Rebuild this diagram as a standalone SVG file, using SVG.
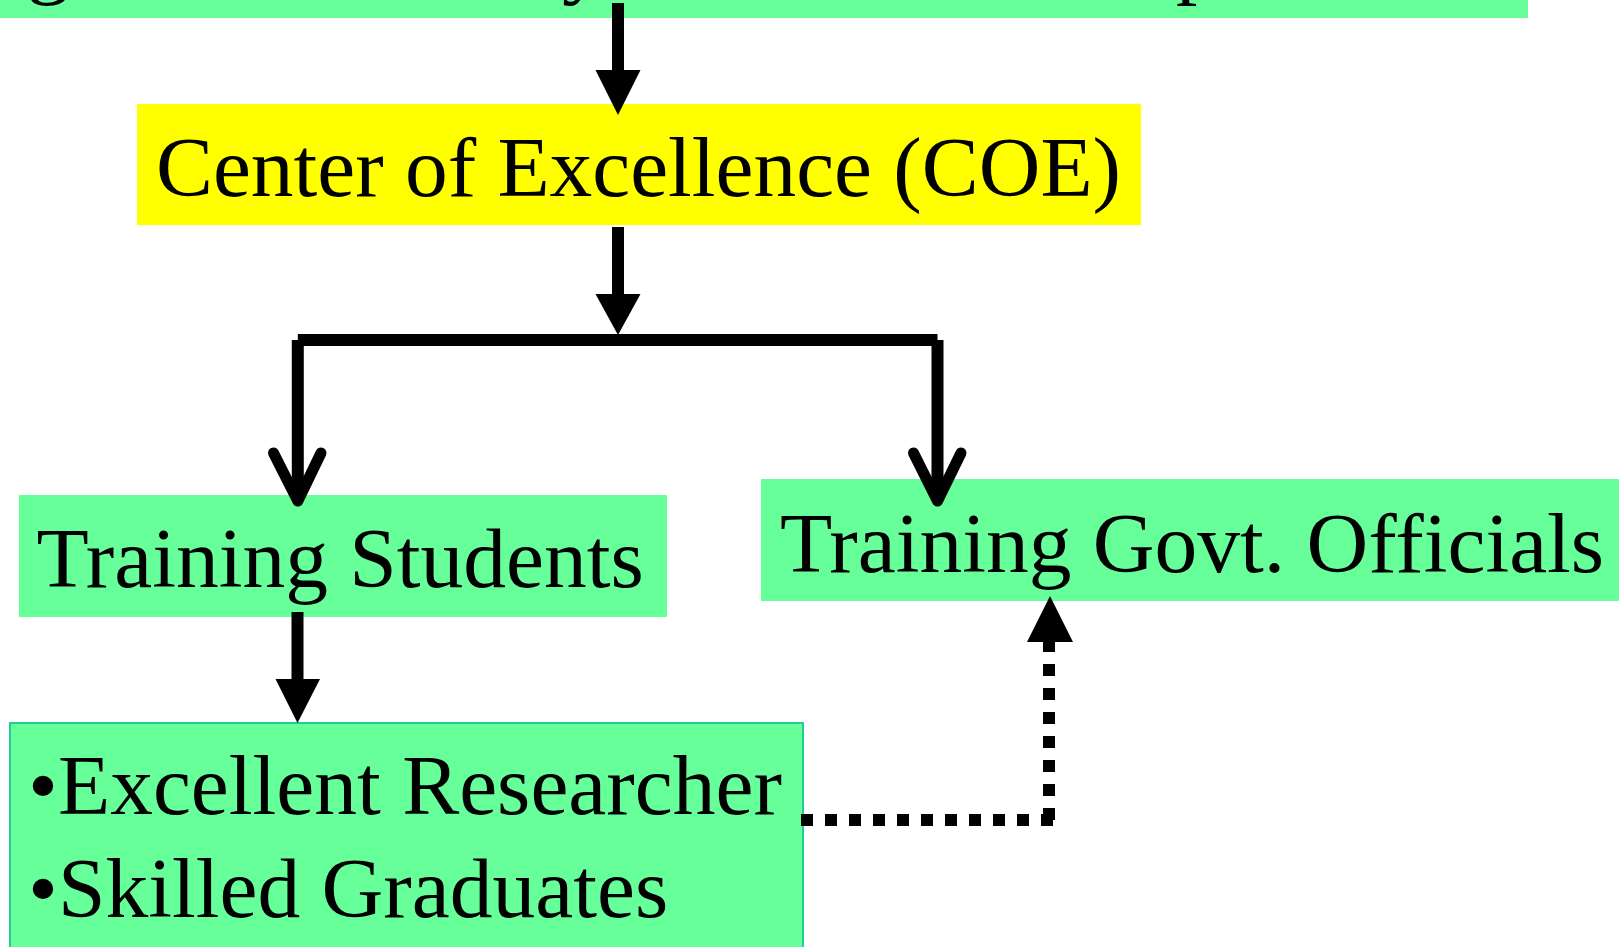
<svg xmlns="http://www.w3.org/2000/svg" width="1619" height="947" viewBox="0 0 1619 947">
<style>
.g{fill:#66FF99}
.y{fill:#FFFF00}
.t{font-family:"Liberation Serif","Times New Roman",serif;font-size:85.5px;fill:#000}
.ln{stroke:#000;stroke-width:12;fill:none}
.open{stroke:#000;stroke-width:11;fill:none;stroke-linecap:round;stroke-linejoin:round}
.dot{stroke:#000;stroke-width:12;fill:none;stroke-dasharray:12 12}
.hd{fill:#000}
</style>
<rect width="1619" height="947" fill="#fff"/>
<g id="top">
<rect class="g" x="0" y="-20" width="1528" height="38"/>
<text class="t" y="-12"><tspan x="27">g</tspan><tspan x="562">y</tspan><tspan x="1176">p</tspan></text>
</g>
<g id="coe">
<rect class="y" x="137" y="104" width="1004" height="121"/>
<text class="t" x="156" y="196" textLength="965" lengthAdjust="spacingAndGlyphs">Center of Excellence (COE)</text>
</g>
<g id="students">
<rect class="g" x="19" y="495" width="648" height="122"/>
<text class="t" x="36.5" y="587">Training Students</text>
</g>
<g id="officials">
<rect class="g" x="761" y="479" width="870" height="122"/>
<text class="t" x="780" y="572">Training Govt. Officials</text>
</g>
<g id="outcomes">
<rect class="g" x="10" y="723" width="793" height="240" stroke="#22CC99" stroke-width="2"/>
<text class="t" x="28" y="814">•Excellent Researcher</text>
<text class="t" x="28" y="917">•Skilled Graduates</text>
</g>
<g id="connectors">
<path class="ln" d="M618 3V71"/>
<polygon class="hd" points="595.5,70 640.5,70 618,115"/>
<path class="ln" d="M618 227V295"/>
<polygon class="hd" points="595.5,294 640.5,294 618,335"/>
<path class="ln" d="M297.8 340H937.5"/>
<path class="ln" d="M297.8 340V498"/>
<path class="open" d="M273.5 453L297.8 501L321 453"/>
<path class="ln" d="M937.5 340V498"/>
<path class="open" d="M913.5 453L937.5 501L961 453"/>
<path class="ln" d="M297.5 612V680"/>
<polygon class="hd" points="275.5,679 320,679 297.5,723"/>
<path class="dot" d="M801 820H1055"/>
<path class="dot" d="M1049 820V642"/>
<polygon class="hd" points="1027,642 1073,642 1050,596"/>
</g>
</svg>
